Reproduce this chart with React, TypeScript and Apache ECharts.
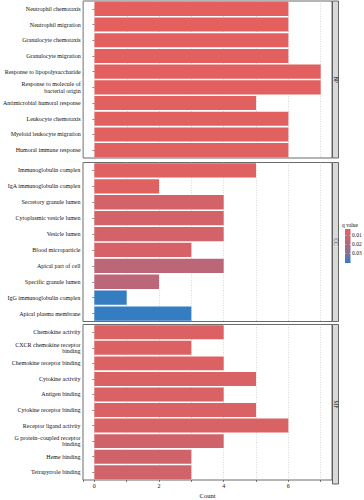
import React, { useEffect, useRef } from 'react';
import * as echarts from 'echarts';

const bpTerms = [
  'Neutrophil chemotaxis',
  'Neutrophil migration',
  'Granulocyte chemotaxis',
  'Granulocyte migration',
  'Response to lipopolysaccharide',
  'Response to molecule of\nbacterial origin',
  'Antimicrobial humoral response',
  'Leukocyte chemotaxis',
  'Myeloid leukocyte migration',
  'Humoral immune response',
];
const bpCounts = [6, 6, 6, 6, 7, 7, 5, 6, 6, 6];
const bpQ = [0.0028, 0.0029, 0.003, 0.003, 0.0032, 0.0032, 0.0035, 0.0035, 0.0036, 0.0038];

const ccTerms = [
  'Immunoglobulin complex',
  'IgA immunoglobulin complex',
  'Secretory granule lumen',
  'Cytoplasmic vesicle lumen',
  'Vesicle lumen',
  'Blood microparticle',
  'Apical part of cell',
  'Specific granule lumen',
  'IgG immunoglobulin complex',
  'Apical plasma membrane',
];
const ccCounts = [5, 2, 4, 4, 4, 3, 4, 2, 1, 3];
const ccQ = [0.004, 0.004, 0.008, 0.008, 0.008, 0.007, 0.016, 0.016, 0.0406, 0.0406];

const mfTerms = [
  'Chemokine activity',
  'CXCR chemokine receptor\nbinding',
  'Chemokine receptor binding',
  'Cytokine activity',
  'Antigen binding',
  'Cytokine receptor binding',
  'Receptor ligand activity',
  'G protein\u2013coupled receptor\nbinding',
  'Heme binding',
  'Tetrapyrrole binding',
];
const mfCounts = [4, 3, 4, 5, 4, 5, 6, 4, 3, 3];
const mfQ = [0.005, 0.005, 0.005, 0.0055, 0.0055, 0.0055, 0.006, 0.009, 0.009, 0.009];

const facetNames = ['BP', 'CC', 'MF'];
const xLabelValues = [0, 2, 4, 6];
const qTicks = [0.01, 0.02, 0.03];
const qMin = 0.0028;
const qMax = 0.0406;
const qColors = ['#E3605F', '#BD6776', '#8D6F93', '#337DC0'];

const FONT = "'Liberation Serif', 'DejaVu Serif', serif";
const TEXT = '#111';

export default function App() {
  const ref = useRef<HTMLDivElement>(null);

  useEffect(() => {
    if (!ref.current) return;
    const chart = echarts.init(ref.current, null, { renderer: 'svg' });

    const panels = [
      { terms: bpTerms, counts: bpCounts, q: bpQ, top: 1, height: 157 },
      { terms: ccTerms, counts: ccCounts, q: ccQ, top: 162.5, height: 159 },
      { terms: mfTerms, counts: mfCounts, q: mfQ, top: 324.5, height: 159.5 },
    ];

    const left = 83;
    const right = 32;
    const plotRight = 364 - right;

    const grids = panels.map((p) => ({
      left,
      right,
      top: p.top,
      height: p.height,
      show: true,
      backgroundColor: '#fff',
      borderColor: '#444',
      borderWidth: 0.8,
      containLabel: false,
    }));

    const xAxes = panels.map((p, i) => ({
      gridIndex: i,
      type: 'value',
      min: -0.35,
      max: 7.35,
      splitNumber: 8,
      axisLine: { show: false },
      axisTick: { show: i === 2, length: 2, lineStyle: { color: '#333', width: 0.6 } },
      axisLabel: {
        show: i === 2,
        customValues: xLabelValues,
        fontSize: 6,
        color: TEXT,
        fontFamily: FONT,
        margin: 3,
      },
      splitLine: { show: true, lineStyle: { color: '#bdbdbd', width: 0.6, type: [1, 1.5] } },
      name: i === 2 ? 'Count' : '',
      nameLocation: 'middle',
      nameGap: 12,
      nameTextStyle: { fontSize: 6.5, color: TEXT, fontFamily: FONT },
    }));

    const yAxes = panels.map((p, i) => ({
      gridIndex: i,
      type: 'category',
      data: p.terms,
      inverse: true,
      axisLine: { show: false },
      axisTick: { show: true, length: 2, alignWithLabel: true, interval: 0, lineStyle: { color: '#333', width: 0.6 } },
      axisLabel: {
        interval: 0,
        fontSize: 6,
        lineHeight: 6.5,
        color: TEXT,
        fontFamily: FONT,
        margin: 2.5,
      },
      splitLine: { show: false },
    }));

    const series = panels.map((p, i) => ({
      type: 'bar',
      xAxisIndex: i,
      yAxisIndex: i,
      barWidth: '90%',
      encode: { x: 0, y: 1 },
      data: p.terms.map((t, j) => [p.counts[j], t, p.q[j]]),
    }));

    const graphics: any[] = [];
    panels.forEach((p, i) => {
      graphics.push({
        type: 'rect',
        shape: { x: plotRight + 0.5, y: p.top, width: 6, height: p.height },
        style: { fill: '#D9D9D9', stroke: '#444', lineWidth: 0.8 },
        z: 10,
      });
      graphics.push({
        type: 'text',
        x: plotRight + 3.5,
        y: p.top + p.height / 2,
        rotation: -Math.PI / 2,
        style: {
          text: facetNames[i],
          fontSize: 5.5,
          fontFamily: FONT,
          fill: TEXT,
          align: 'center',
          verticalAlign: 'middle',
        },
        z: 11,
      });
    });

    const barX = 345;
    const barY = 229;
    const barW = 5.5;
    const barH = 34;
    graphics.push({
      type: 'text',
      x: 342,
      y: 224.5,
      style: { text: 'q value', fontSize: 5.5, fontFamily: FONT, fill: TEXT, align: 'left', verticalAlign: 'middle' },
    });
    graphics.push({
      type: 'rect',
      shape: { x: barX, y: barY, width: barW, height: barH },
      style: {
        fill: new echarts.graphic.LinearGradient(
          0, 0, 0, 1,
          qColors.map((c, k) => ({ offset: k / (qColors.length - 1), color: c }))
        ),
      },
    });
    qTicks.forEach((q) => {
      const y = barY + ((q - qMin) / (qMax - qMin)) * barH;
      graphics.push({
        type: 'line',
        shape: { x1: barX, y1: y, x2: barX + 1.2, y2: y },
        style: { stroke: '#fff', lineWidth: 0.5 },
      });
      graphics.push({
        type: 'line',
        shape: { x1: barX + barW - 1.2, y1: y, x2: barX + barW, y2: y },
        style: { stroke: '#fff', lineWidth: 0.5 },
      });
      graphics.push({
        type: 'text',
        x: barX + barW + 1.5,
        y,
        style: { text: q.toFixed(2), fontSize: 5.5, fontFamily: FONT, fill: TEXT, align: 'left', verticalAlign: 'middle' },
      });
    });

    chart.setOption({
      animation: false,
      backgroundColor: '#fff',
      textStyle: { fontFamily: FONT },
      grid: grids,
      xAxis: xAxes,
      yAxis: yAxes,
      visualMap: {
        type: 'continuous',
        show: false,
        min: qMin,
        max: qMax,
        dimension: 2,
        seriesIndex: [0, 1, 2],
        inRange: { color: qColors },
      },
      series,
      graphic: graphics,
    });

    return () => chart.dispose();
  }, []);

  return (
    <div
      ref={ref}
      style={{ position: 'fixed', left: 0, top: 0, width: 364, height: 500 }}
    />
  );
}
